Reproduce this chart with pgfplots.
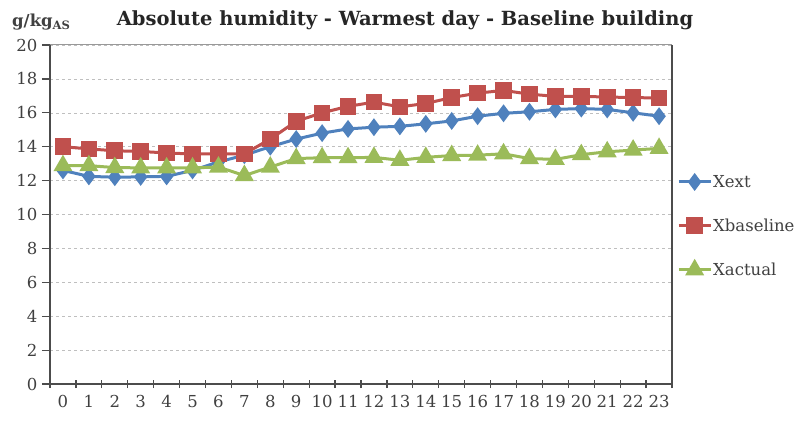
\documentclass[border=0pt]{standalone}
\usepackage{fontspec}
\setmainfont{DejaVu Serif}
\usepackage{pgfplots}
\pgfplotsset{compat=1.18}

\definecolor{xext}{HTML}{4F81BD}
\definecolor{xbase}{HTML}{C0504D}
\definecolor{xact}{HTML}{9BBB59}
\definecolor{txt}{HTML}{404040}

\pgfplotstableread{
h  ext    base   act
0  12.60  14.00  12.88
1  12.25  13.87  12.88
2  12.20  13.76  12.77
3  12.22  13.72  12.75
4  12.25  13.63  12.75
5  12.60  13.57  12.75
6  13.10  13.57  12.80
7  13.50  13.58  12.30
8  14.00  14.45  12.80
9  14.45  15.50  13.30
10 14.80  16.00  13.35
11 15.05  16.38  13.35
12 15.15  16.63  13.37
13 15.20  16.35  13.20
14 15.35  16.55  13.37
15 15.52  16.90  13.48
16 15.80  17.16  13.50
17 15.97  17.32  13.58
18 16.06  17.10  13.30
19 16.20  16.97  13.25
20 16.25  16.97  13.53
21 16.20  16.93  13.70
22 16.00  16.90  13.80
23 15.80  16.87  13.90
}\humid

\begin{document}
\begin{tikzpicture}[x=1pt,y=1pt]
\path[use as bounding box] (0,0) rectangle (800,421);
\begin{axis}[
    at={(50pt,37pt)}, anchor=south west,
    scale only axis,
    width=622pt, height=339pt,
    xmin=-0.5, xmax=23.5,
    ymin=0, ymax=20,
    xtick={-0.5,0.5,...,23.5},
    xticklabels={0,1,2,3,4,5,6,7,8,9,10,11,12,13,14,15,16,17,18,19,20,21,22,23},
    x tick label as interval,
    ytick={0,2,...,20},
    axis x line*=bottom,
    axis y line*=left,
    axis line style={draw=black!70, line width=1.6pt, -},
    xtick align=center,
    ytick align=outside,
    major tick length=8pt,
    tick style={draw=black!70, line width=1.2pt},
    ymajorgrids,
    major grid style={draw=black!25, dashed, line width=0.6pt},
    tick label style={font=\fontsize{16.5}{20}\selectfont, text=txt},
    /pgf/number format/assume math mode=true,
    xticklabel style={yshift=-4pt, inner xsep=0pt},
    yticklabel style={xshift=-1pt},
    legend style={at={(1.008,0.466)}, anchor=west, draw=none, fill=none,
        font=\fontsize{16.5}{20}\selectfont, text=txt,
        row sep=26pt, legend cell align=left, inner xsep=0pt,
        nodes={inner xsep=1pt}},
    legend image code/.code={
        \draw[mark repeat=2,mark phase=2] plot coordinates {(0pt,0pt) (16pt,0pt) (32pt,0pt)};
    },
    clip=false,
]
\addplot[xext, line width=3pt, mark=diamond*, mark size=6.5pt, mark options={solid}] table[x=h,y=ext]{\humid};
\addlegendentry{Xext}
\addplot[xbase, line width=3pt, mark=square*, mark size=6.8pt, mark options={solid}] table[x=h,y=base]{\humid};
\addlegendentry{Xbaseline}
\addplot[xact, line width=3pt, mark=triangle*, mark size=8pt, mark options={solid}] table[x=h,y=act]{\humid};
\addlegendentry{Xactual}
\draw[black!40, line width=1pt] (rel axis cs:0,1) -- (rel axis cs:1,1);
\draw[black!70, line width=1.2pt] (rel axis cs:1,0) -- (rel axis cs:1,1);
\end{axis}
\node[font=\bfseries\fontsize{19.5}{24}\selectfont, text=black!85] at (405,401) {Absolute humidity - Warmest day - Baseline building};
\node[anchor=base west, font=\bfseries\fontsize{16.5}{20}\selectfont, text=txt, inner sep=0pt] at (12,394) {g/kg\textsubscript{AS}};
\end{tikzpicture}
\end{document}
